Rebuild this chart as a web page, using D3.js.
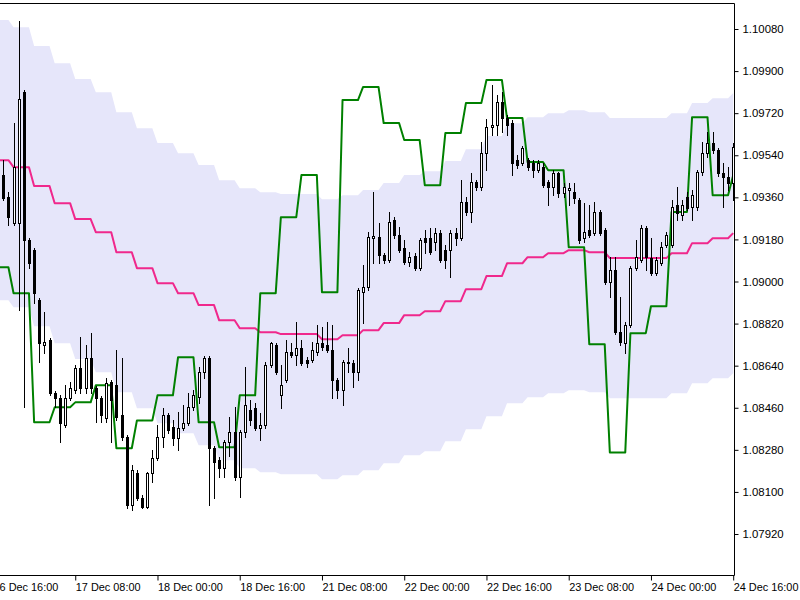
<!DOCTYPE html>
<html><head><meta charset="utf-8">
<script src="https://cdn.jsdelivr.net/npm/d3@7"></script>
<style>html,body{margin:0;padding:0;background:#fff;overflow:hidden}</style>
</head><body>
<svg id="chart" width="800" height="600"></svg>
<script>
// ---- DATA (H1 candles, bars 2..144; bar 0 = 16 Dec 16:00) ----
const firstBar = 2;
const opens = [
1.09455,1.09361,1.09250,1.09250,1.09810,1.09177,1.09134,1.08920,1.08727,1.08749,
1.08522,1.08501,1.08385,1.08501,1.08535,1.08629,1.08543,1.08672,1.08543,1.08501,
1.08415,1.08569,1.08556,1.08428,1.08334,1.08043,1.08180,1.08073,1.08034,1.08180,
1.08244,1.08334,1.08428,1.08376,1.08329,1.08372,1.08394,1.08462,1.08505,1.08612,
1.08672,1.08287,1.08235,1.08201,1.08312,1.08355,1.08162,1.08355,1.08449,1.08458,
1.08372,1.08385,1.08642,1.08727,1.08513,1.08578,1.08697,1.08685,1.08715,1.08663,
1.08663,1.08697,1.08736,1.08727,1.08706,1.08578,1.08535,1.08650,1.08650,1.08612,
1.08954,1.08976,1.09185,1.09190,1.09113,1.09091,1.09262,1.09198,1.09143,1.09083,
1.09108,1.09057,1.09185,1.09185,1.09168,1.09207,1.09134,1.09134,1.09207,1.09185,
1.09339,1.09297,1.09425,1.09404,1.09549,1.09660,1.09669,1.09767,1.09699,1.09678,
1.09519,1.09506,1.09519,1.09506,1.09476,1.09489,1.09425,1.09404,1.09464,1.09378,
1.09391,1.09382,1.09348,1.09185,1.09220,1.09207,1.09297,1.09220,1.08997,1.09048,
1.08783,1.08736,1.08813,1.09057,1.09091,1.09228,1.09100,1.09036,1.09078,1.09155,
1.09155,1.09327,1.09284,1.09361,1.09318,1.09318,1.09468,1.09549,1.09592,1.09562,
1.09464,1.09446,1.09421];
const highs = [
1.09519,1.09382,1.09678,1.10114,1.09819,1.09185,1.09143,1.08929,1.08869,1.08757,
1.08530,1.08513,1.08556,1.08569,1.08642,1.08762,1.08727,1.08779,1.08552,1.08509,
1.08586,1.08578,1.08706,1.08672,1.08342,1.08214,1.08192,1.08085,1.08184,1.08278,
1.08385,1.08458,1.08436,1.08406,1.08441,1.08471,1.08522,1.08535,1.08633,1.08680,
1.08680,1.08295,1.08248,1.08321,1.08419,1.08462,1.08364,1.08633,1.08492,1.08479,
1.08436,1.08655,1.08740,1.08736,1.08642,1.08749,1.08736,1.08826,1.08749,1.08676,
1.08740,1.08813,1.08804,1.08826,1.08813,1.08586,1.08663,1.08715,1.08663,1.08971,
1.09070,1.09211,1.09382,1.09250,1.09121,1.09297,1.09275,1.09232,1.09177,1.09125,
1.09121,1.09185,1.09220,1.09228,1.09228,1.09220,1.09155,1.09220,1.09228,1.09434,
1.09361,1.09464,1.09434,1.09596,1.09695,1.09840,1.09797,1.09810,1.09712,1.09690,
1.09541,1.09579,1.09528,1.09519,1.09519,1.09506,1.09434,1.09476,1.09468,1.09421,
1.09421,1.09421,1.09357,1.09335,1.09327,1.09339,1.09305,1.09228,1.09104,1.09104,
1.08933,1.08826,1.09065,1.09177,1.09241,1.09237,1.09185,1.09104,1.09168,1.09211,
1.09348,1.09404,1.09348,1.09382,1.09391,1.09476,1.09596,1.09639,1.09639,1.09571,
1.09506,1.09489,1.09592];
const lows = [
1.09348,1.09241,1.09241,1.08877,1.08462,1.09057,1.08907,1.08655,1.08693,1.08513,
1.08462,1.08312,1.08376,1.08492,1.08522,1.08522,1.08522,1.08522,1.08398,1.08398,
1.08398,1.08312,1.08406,1.08321,1.08030,1.08021,1.08064,1.08030,1.08030,1.08141,
1.08235,1.08291,1.08351,1.08299,1.08278,1.08364,1.08385,1.08449,1.08479,1.08586,
1.08043,1.08073,1.08162,1.08162,1.08252,1.08150,1.08077,1.08334,1.08385,1.08364,
1.08321,1.08372,1.08633,1.08603,1.08458,1.08569,1.08676,1.08642,1.08642,1.08633,
1.08655,1.08685,1.08706,1.08697,1.08501,1.08501,1.08471,1.08612,1.08548,1.08578,
1.08822,1.08963,1.09078,1.09078,1.09078,1.09083,1.09185,1.09125,1.09074,1.09065,
1.09048,1.09048,1.09121,1.09117,1.09134,1.09083,1.09057,1.09018,1.09155,1.09177,
1.09284,1.09254,1.09391,1.09391,1.09476,1.09626,1.09626,1.09639,1.09626,1.09455,
1.09485,1.09498,1.09476,1.09446,1.09468,1.09404,1.09327,1.09369,1.09361,1.09361,
1.09327,1.09335,1.09164,1.09168,1.09190,1.09198,1.09198,1.08989,1.08933,1.08775,
1.08727,1.08693,1.08804,1.09048,1.09083,1.09048,1.09027,1.09027,1.09070,1.09147,
1.09147,1.09262,1.09262,1.09305,1.09262,1.09305,1.09455,1.09532,1.09549,1.09451,
1.09318,1.09391,1.09348];
const closes = [
1.09357,1.09275,1.09489,1.09780,1.09177,1.09078,1.08950,1.08736,1.08740,1.08522,
1.08501,1.08394,1.08501,1.08543,1.08629,1.08543,1.08672,1.08543,1.08501,1.08428,
1.08565,1.08492,1.08419,1.08334,1.08043,1.08192,1.08073,1.08034,1.08180,1.08244,
1.08334,1.08428,1.08364,1.08329,1.08372,1.08394,1.08462,1.08513,1.08612,1.08672,
1.08287,1.08227,1.08201,1.08312,1.08355,1.08162,1.08355,1.08471,1.08406,1.08372,
1.08385,1.08642,1.08736,1.08612,1.08556,1.08697,1.08685,1.08715,1.08650,1.08650,
1.08706,1.08736,1.08719,1.08706,1.08578,1.08535,1.08655,1.08655,1.08612,1.08963,
1.08976,1.09190,1.09194,1.09113,1.09091,1.09254,1.09198,1.09134,1.09083,1.09104,
1.09057,1.09177,1.09168,1.09125,1.09207,1.09091,1.09091,1.09207,1.09185,1.09339,
1.09297,1.09425,1.09404,1.09549,1.09660,1.09669,1.09767,1.09699,1.09669,1.09506,
1.09498,1.09571,1.09489,1.09476,1.09506,1.09412,1.09404,1.09464,1.09378,1.09404,
1.09399,1.09357,1.09177,1.09211,1.09198,1.09297,1.09207,1.08997,1.09048,1.08783,
1.08740,1.08813,1.09057,1.09104,1.09228,1.09104,1.09036,1.09091,1.09147,1.09198,
1.09318,1.09292,1.09327,1.09314,1.09369,1.09468,1.09549,1.09592,1.09562,1.09464,
1.09446,1.09421,1.09575];

// ---- Indicator values, one per H4 period (4 H1 bars each), periods 0..36 ----
const maLine = [
1.09519,1.09489,1.09408,1.09335,1.09267,1.09211,1.09125,1.09057,1.08993,1.08950,
1.08899,1.08834,1.08800,1.08783,1.08775,1.08775,1.08753,1.08770,1.08792,1.08822,
1.08856,1.08873,1.08916,1.08967,1.09023,1.09078,1.09104,1.09121,1.09134,1.09125,
1.09100,1.09100,1.09100,1.09121,1.09164,1.09185,1.09207];
const bandUpper = [
1.10118,1.10088,1.10007,1.09934,1.09866,1.09810,1.09724,1.09656,1.09592,1.09549,
1.09498,1.09433,1.09399,1.09382,1.09374,1.09374,1.09352,1.09369,1.09391,1.09421,
1.09455,1.09472,1.09515,1.09566,1.09622,1.09677,1.09703,1.09720,1.09733,1.09724,
1.09699,1.09699,1.09699,1.09720,1.09763,1.09784,1.09806];
const bandLower = [
1.08920,1.08890,1.08809,1.08736,1.08668,1.08612,1.08526,1.08458,1.08394,1.08351,
1.08300,1.08235,1.08201,1.08184,1.08176,1.08176,1.08154,1.08171,1.08193,1.08223,
1.08257,1.08274,1.08317,1.08368,1.08424,1.08479,1.08505,1.08522,1.08535,1.08526,
1.08501,1.08501,1.08501,1.08522,1.08565,1.08586,1.08608];
const greenLine = [
1.09061,1.08950,1.08398,1.08462,1.08483,1.08556,1.08287,1.08406,1.08513,1.08676,
1.08398,1.08291,1.08513,1.08950,1.09275,1.09455,1.08954,1.09776,1.09832,1.09678,
1.09605,1.09412,1.09635,1.09763,1.09862,1.09699,1.09511,1.09476,1.09147,1.08732,
1.08269,1.08779,1.08894,1.09297,1.09703,1.09369,1.09455];

// ---- Axis labels ----
const priceTicks = [1.10080,1.09900,1.09720,1.09540,1.09360,1.09180,1.09000,1.08820,1.08640,1.08460,1.08280,1.08100,1.07920];
const timeTickBars = [0,16,32,48,64,80,96,112,128,144];
const timeLabels = ["16 Dec 16:00","17 Dec 08:00","18 Dec 00:00","18 Dec 16:00","21 Dec 08:00","22 Dec 00:00","22 Dec 16:00","23 Dec 08:00","24 Dec 00:00","24 Dec 16:00"];

// ---- Layout ----
const lastBar = 144, barsPerPeriod = 4;
const plotRight = 734, plotTop = 3.5, plotBottom = 575;
const x = d3.scaleLinear().domain([0, lastBar]).range([-7, 733.2]);
const y = d3.scaleLinear().domain([1.07920, 1.10080]).range([534, 29]);

const svg = d3.select("#chart");
svg.append("defs").append("clipPath").attr("id","plot")
  .append("rect").attr("x",0).attr("y",plotTop).attr("width",plotRight).attr("height",plotBottom-plotTop);

const g = svg.append("g").attr("clip-path","url(#plot)");

const bars = d3.range(0, lastBar + 1);
const period = i => Math.floor(i / barsPerPeriod);

// band
g.append("path")
  .datum(bars)
  .attr("fill","#e6e6fa")
  .attr("d", d3.area().x(i => x(i)).y0(i => y(bandLower[period(i)])).y1(i => y(bandUpper[period(i)])));

// pink MA
g.append("path").datum(bars)
  .attr("fill","none").attr("stroke","#f0288c").attr("stroke-width",2).attr("stroke-linejoin","round")
  .attr("d", d3.line().x(i => x(i)).y(i => y(maLine[period(i)])));

// green line
g.append("path").datum(bars)
  .attr("fill","none").attr("stroke","#008000").attr("stroke-width",2).attr("stroke-linejoin","round")
  .attr("d", d3.line().x(i => x(i)).y(i => y(greenLine[period(i)])));

// candles
const candles = opens.map((o, k) => ({i: firstBar + k, o, h: highs[k], l: lows[k], c: closes[k]}));
const cg = g.append("g");
candles.forEach(d => {
  const cx = Math.round(x(d.i));
  const yh = Math.round(y(d.h)), yl = Math.round(y(d.l));
  const yo = Math.round(y(d.o)), yc = Math.round(y(d.c));
  cg.append("line").attr("x1",cx+0.5).attr("x2",cx+0.5).attr("y1",yh).attr("y2",yl+1)
    .attr("stroke","#000").attr("stroke-width",1);
  const top = Math.min(yo,yc), bot = Math.max(yo,yc);
  if (d.c >= d.o) {
    cg.append("rect").attr("x",cx-0.5).attr("y",top+0.5).attr("width",2).attr("height",Math.max(bot-top,1))
      .attr("fill","#fff").attr("stroke","#000").attr("stroke-width",1);
  } else {
    cg.append("rect").attr("x",cx-1).attr("y",top).attr("width",3).attr("height",Math.max(bot-top+1,1))
      .attr("fill","#000");
  }
});

// frame
svg.append("line").attr("x1",0).attr("x2",plotRight+0.5).attr("y1",plotTop).attr("y2",plotTop).attr("stroke","#000");
svg.append("line").attr("x1",plotRight+0.5).attr("x2",plotRight+0.5).attr("y1",plotTop).attr("y2",plotBottom+0.5).attr("stroke","#000");
svg.append("line").attr("x1",0).attr("x2",plotRight+0.5).attr("y1",plotBottom+0.5).attr("y2",plotBottom+0.5).attr("stroke","#000");

const font = "'Liberation Sans', Arial, sans-serif";

// right price axis
const yAxis = svg.append("g").attr("transform",`translate(${plotRight+0.5},0)`)
  .call(d3.axisRight(y).tickValues(priceTicks).tickFormat(d3.format(".5f")).tickSize(4).tickPadding(4));
yAxis.select(".domain").remove();
yAxis.selectAll("text").attr("font-family",font).attr("font-size",11.4).attr("fill","#000");
yAxis.selectAll("line").attr("stroke","#000");

// bottom time axis
const xAxis = svg.append("g").attr("transform",`translate(0,${plotBottom+0.5})`)
  .call(d3.axisBottom(x).tickValues(timeTickBars).tickFormat((d, k) => timeLabels[k]).tickSize(5).tickPadding(3));
xAxis.select(".domain").remove();
xAxis.selectAll(".tick line").attr("stroke","#000");
xAxis.selectAll("text").attr("text-anchor","start").attr("dx",0)
  .attr("font-family",font).attr("font-size",10.9).attr("fill","#000");
</script>
</body></html>
